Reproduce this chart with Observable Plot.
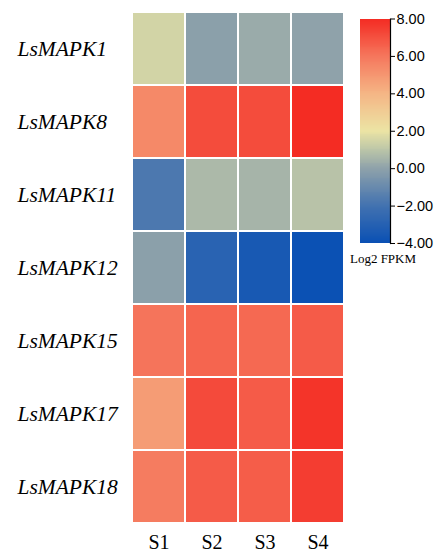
<!DOCTYPE html>
<html>
<head>
<meta charset="utf-8">
<script src="https://cdn.jsdelivr.net/npm/d3@7"></script>
<script src="https://cdn.jsdelivr.net/npm/@observablehq/plot@0.6"></script>
<style>
  html, body { margin: 0; padding: 0; background: #fff; }
  #root { position: relative; width: 438px; height: 553px; overflow: hidden; }
  #heat { position: absolute; left: 0; top: 0; }
  #bar { position: absolute; left: 355px; top: 0; }
  #cap { position: absolute; left: 340px; top: 252px; width: 86px; text-align: center; line-height: 14px;
         font-family: "Liberation Serif", "Times New Roman", serif; font-size: 13px; color: #000; }
</style>
</head>
<body>
<div id="root">
  <div id="heat"></div>
  <div id="bar"></div>
  <div id="cap">Log2 FPKM</div>
</div>
<script>
// Data
const genes = ["LsMAPK1", "LsMAPK8", "LsMAPK11", "LsMAPK12", "LsMAPK15", "LsMAPK17", "LsMAPK18"];
const samples = ["S1", "S2", "S3", "S4"];
const S1 = [1.45, 5.4, -1.75, -0.1, 6.05, 4.8, 5.8];
const S2 = [-0.1, 7.1, 0.65, -2.9, 6.45, 7.15, 6.7];
const S3 = [0.25, 7.1, 0.5, -3.5, 6.35, 6.7, 6.65];
const S4 = [0.0, 7.95, 0.9, -3.95, 6.7, 7.75, 7.5];
const legendTicks = [-4, -2, 0, 2, 4, 6, 8];
const colorStops = [-4, -2, 0, 1, 2, 4, 6, 8];
const colorValues = ["#0a50b4", "#4272b0", "#8fa2aa", "#bcc6a8", "#ece4a4", "#f5b585", "#f5765c", "#f42a22"];

const series = [S1, S2, S3, S4];
const table = [];
genes.forEach((g, i) => samples.forEach((s, j) => table.push({gene: g, sample: s, value: series[j][i]})));

const colorScale = {type: "linear", domain: colorStops, range: colorValues, interpolate: "rgb"};

const heat = Plot.plot({
  width: 350,
  height: 553,
  marginLeft: 131,
  marginRight: 6,
  marginTop: 12,
  marginBottom: 30,
  x: {domain: samples, padding: 0, label: null},
  y: {domain: genes, padding: 0, label: null, axis: null},
  color: colorScale,
  style: {fontFamily: "'Liberation Serif', 'Times New Roman', serif", background: "transparent", overflow: "visible"},
  marks: [
    Plot.cell(table, {x: "sample", y: "gene", fill: "value", inset: 1}),
    Plot.axisX({anchor: "bottom", tickSize: 0, tickPadding: 11, fontSize: 20, label: null}),
    Plot.text(genes, {y: d => d, frameAnchor: "left", dx: -114, textAnchor: "start",
      fontSize: 21.5, fontStyle: "italic", fill: "#000"})
  ]
});
document.getElementById("heat").appendChild(heat);

const step = 0.05;
const ramp = d3.range(-4, 8, step);
const bar = Plot.plot({
  width: 83,
  height: 265,
  marginLeft: 5,
  marginRight: 48,
  marginTop: 18.5,
  marginBottom: 22,
  y: {domain: [-4, 8], label: null},
  color: colorScale,
  style: {fontFamily: "'Liberation Sans', Arial, sans-serif", background: "transparent"},
  marks: [
    Plot.rect(ramp, {y1: d => d, y2: d => Math.min(8, d + step * 1.5), fill: d => d + step / 2, shapeRendering: "crispEdges"}),
    Plot.frame({anchor: "right", stroke: "#000", strokeWidth: 1.2}),
    Plot.axisY({anchor: "right", ticks: legendTicks, tickFormat: d3.format(".2f"), tickSize: 4, tickPadding: 2,
      fontSize: 14.5, label: null, stroke: "#000", color: "#000"})
  ]
});
document.getElementById("bar").appendChild(bar);
</script>
</body>
</html>
